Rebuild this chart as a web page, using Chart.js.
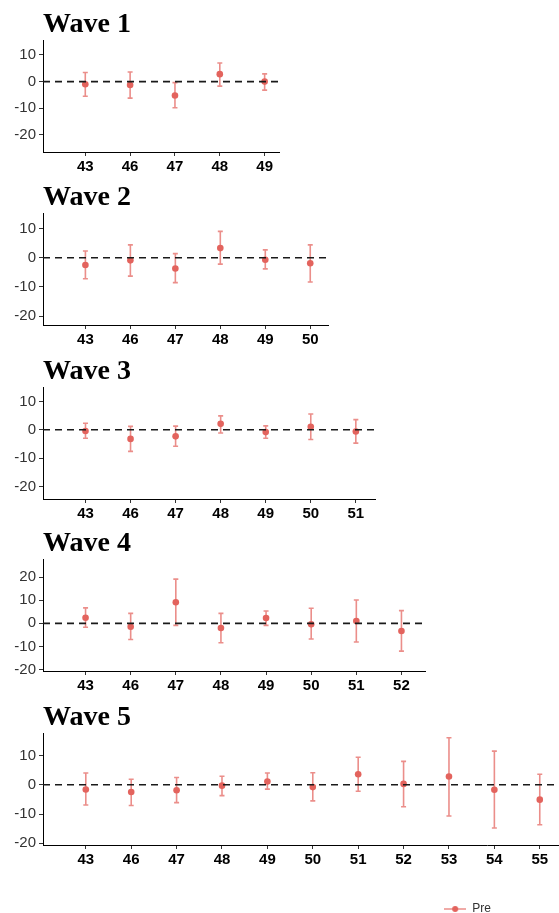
<!DOCTYPE html>
<html>
<head>
<meta charset="utf-8">
<script src="https://cdn.jsdelivr.net/npm/chart.js@4.4.1/dist/chart.umd.min.js"></script>
<style>
  html, body { margin: 0; padding: 0; background: #fff; overflow: hidden; }
  #figure { position: relative; width: 559px; height: 913px; overflow: hidden; }
  #figure canvas { position: absolute; left: 0; }
</style>
</head>
<body>
<div id="figure"></div>
<script>
// age categories along the x axis (each wave uses the first n of them)
const ages = ['43', '46', '47', '48', '49', '50', '51', '52', '53', '54', '55'];
const waveNames = ['Wave 1', 'Wave 2', 'Wave 3', 'Wave 4', 'Wave 5'];

// point estimates and 95% interval bounds per wave
const wave1Est = [-1.0, -1.3, -5.2, 2.8, 0.0];
const wave1Lo  = [-5.5, -6.2, -9.8, -1.7, -3.2];
const wave1Hi  = [3.4, 3.6, -0.4, 7.0, 2.9];

const wave2Est = [-2.5, -0.9, -3.7, 3.3, -0.7, -1.9];
const wave2Lo  = [-7.2, -6.3, -8.5, -2.2, -3.8, -8.3];
const wave2Hi  = [2.3, 4.4, 1.4, 9.0, 2.7, 4.4];

const wave3Est = [-0.4, -3.2, -2.3, 2.1, -0.8, 1.1, -0.6];
const wave3Lo  = [-3.0, -7.6, -5.8, -1.1, -3.0, -3.4, -4.7];
const wave3Hi  = [2.3, 1.2, 1.3, 4.9, 1.4, 5.6, 3.6];

const wave4Est = [2.4, -1.5, 9.1, -2.0, 2.3, -0.4, 1.0, -3.3];
const wave4Lo  = [-1.7, -7.0, -0.9, -8.4, -0.9, -6.8, -8.1, -12.0];
const wave4Hi  = [6.7, 4.3, 19.1, 4.3, 5.3, 6.5, 10.1, 5.5];

const wave5Est = [-1.6, -2.5, -1.9, -0.3, 1.1, -0.8, 3.6, 0.3, 2.8, -1.7, -5.1];
const wave5Lo  = [-6.9, -7.1, -6.1, -3.7, -1.5, -5.5, -2.2, -7.5, -10.7, -14.8, -13.7];
const wave5Hi  = [4.0, 1.9, 2.5, 2.9, 4.0, 4.1, 9.4, 8.0, 16.1, 11.5, 3.6];

const yLimits = [[-26.4, 15.6], [-23.0, 15.3], [-24.4, 15.1], [-20.6, 27.8], [-20.6, 17.7]];

// layout of the stacked panels
const panelTops = [0, 173, 347, 519, 693];
const panelWidths = [283, 332, 379, 429, 935];
const panelHeights = [174, 174, 174, 174, 232];
const TITLE_H = 40;
const AREA_H = 112;
const AXIS_LEFT = 43;
const STEP = 45.6;           // px between neighbouring ages
const X_MIN = -AXIS_LEFT / STEP;

const POINT_COLOR = '#e3635d';
const BAR_COLOR = 'rgba(227, 99, 93, 0.72)';

Chart.defaults.font.family = "'Liberation Sans', Arial, sans-serif";

// draws the interval whiskers under the points
const errorBars = {
  id: 'errorBars',
  beforeDatasetsDraw(chart) {
    const {ctx, scales: {x, y}} = chart;
    chart.data.datasets.forEach(ds => {
      if (!ds.errorBars) return;
      ctx.save();
      ctx.strokeStyle = BAR_COLOR;
      ctx.lineWidth = 1.6;
      ctx.beginPath();
      ds.data.forEach(p => {
        const px = x.getPixelForValue(p.x);
        const top = y.getPixelForValue(p.hi);
        const bot = y.getPixelForValue(p.lo);
        ctx.moveTo(px, top); ctx.lineTo(px, bot);
        ctx.moveTo(px - 2.5, top); ctx.lineTo(px + 2.5, top);
        ctx.moveTo(px - 2.5, bot); ctx.lineTo(px + 2.5, bot);
      });
      ctx.stroke();
      ctx.restore();
    });
  }
};

// line-with-dot key for the legend
function legendMarker() {
  const c = document.createElement('canvas');
  c.width = 22;
  c.height = 8;
  const g = c.getContext('2d');
  g.strokeStyle = BAR_COLOR;
  g.lineWidth = 1.5;
  g.beginPath(); g.moveTo(0, 4); g.lineTo(22, 4); g.stroke();
  g.fillStyle = POINT_COLOR;
  g.beginPath(); g.arc(11, 4, 3, 0, Math.PI * 2); g.fill();
  return c;
}

const estimates = [wave1Est, wave2Est, wave3Est, wave4Est, wave5Est];
const lows = [wave1Lo, wave2Lo, wave3Lo, wave4Lo, wave5Lo];
const highs = [wave1Hi, wave2Hi, wave3Hi, wave4Hi, wave5Hi];
const figure = document.getElementById('figure');

waveNames.forEach((name, w) => {
  const canvas = document.createElement('canvas');
  canvas.width = panelWidths[w];
  canvas.height = panelHeights[w];
  canvas.style.top = panelTops[w] + 'px';
  figure.appendChild(canvas);

  const est = estimates[w];
  const cats = ages.slice(0, est.length);
  const xMax = X_MIN + (panelWidths[w] - AXIS_LEFT) / STEP;
  const isLast = w === waveNames.length - 1;
  const points = est.map((v, i) => ({x: i, y: v, lo: lows[w][i], hi: highs[w][i]}));

  new Chart(canvas, {
    type: 'scatter',
    data: {
      datasets: [{
        type: 'line',
        label: 'zero',
        data: [{x: X_MIN, y: 0}, {x: xMax, y: 0}],
        borderColor: '#1a1a1a',
        borderWidth: 1.6,
        borderDash: [7, 5],
        pointRadius: 0
      }, {
        label: 'Pre',
        data: points,
        errorBars: true,
        pointRadius: 3.3,
        pointBackgroundColor: POINT_COLOR,
        pointBorderWidth: 0,
        backgroundColor: POINT_COLOR,
        borderColor: POINT_COLOR
      }]
    },
    options: {
      responsive: false,
      animation: false,
      events: [],
      layout: { padding: 0 },
      scales: {
        x: {
          type: 'linear',
          min: X_MIN,
          max: xMax,
          afterBuildTicks: (scale) => {
            scale.ticks = cats.map((_, i) => ({value: i}));
          },
          afterFit: (scale) => {
            const chart = scale.chart;
            const legendH = isLast && chart.legend ? chart.legend.height : 0;
            scale.height = chart.height - TITLE_H - AREA_H - legendH;
          },
          ticks: {
            callback: (v) => cats[v],
            autoSkip: false,
            maxRotation: 0,
            padding: 2,
            color: '#000',
            font: { size: 15, weight: 'bold' }
          },
          grid: { drawOnChartArea: false, tickLength: 4, color: '#333' },
          border: { color: '#000', width: 1 }
        },
        y: {
          min: yLimits[w][0],
          max: yLimits[w][1],
          afterFit: (scale) => { scale.width = AXIS_LEFT; },
          ticks: {
            stepSize: 10,
            includeBounds: false,
            padding: 3,
            color: '#333',
            font: { size: 15 }
          },
          grid: { drawOnChartArea: false, tickLength: 4, color: '#333' },
          border: { color: '#000', width: 1 }
        }
      },
      plugins: {
        title: {
          display: true,
          text: name,
          align: 'start',
          fullSize: false,
          color: '#000',
          font: { family: "'Liberation Serif', 'Times New Roman', serif", size: 28, weight: 'bold', lineHeight: 1.1 },
          padding: { top: 9.2, bottom: 0 }
        },
        legend: {
          display: isLast,
          position: 'bottom',
          labels: {
            filter: (item) => item.datasetIndex === 1,
            usePointStyle: true,
            pointStyle: legendMarker(),
            pointStyleWidth: 22,
            color: '#333',
            font: { size: 12 }
          }
        },
        tooltip: { enabled: false }
      }
    },
    plugins: [errorBars]
  });
});
</script>
</body>
</html>
